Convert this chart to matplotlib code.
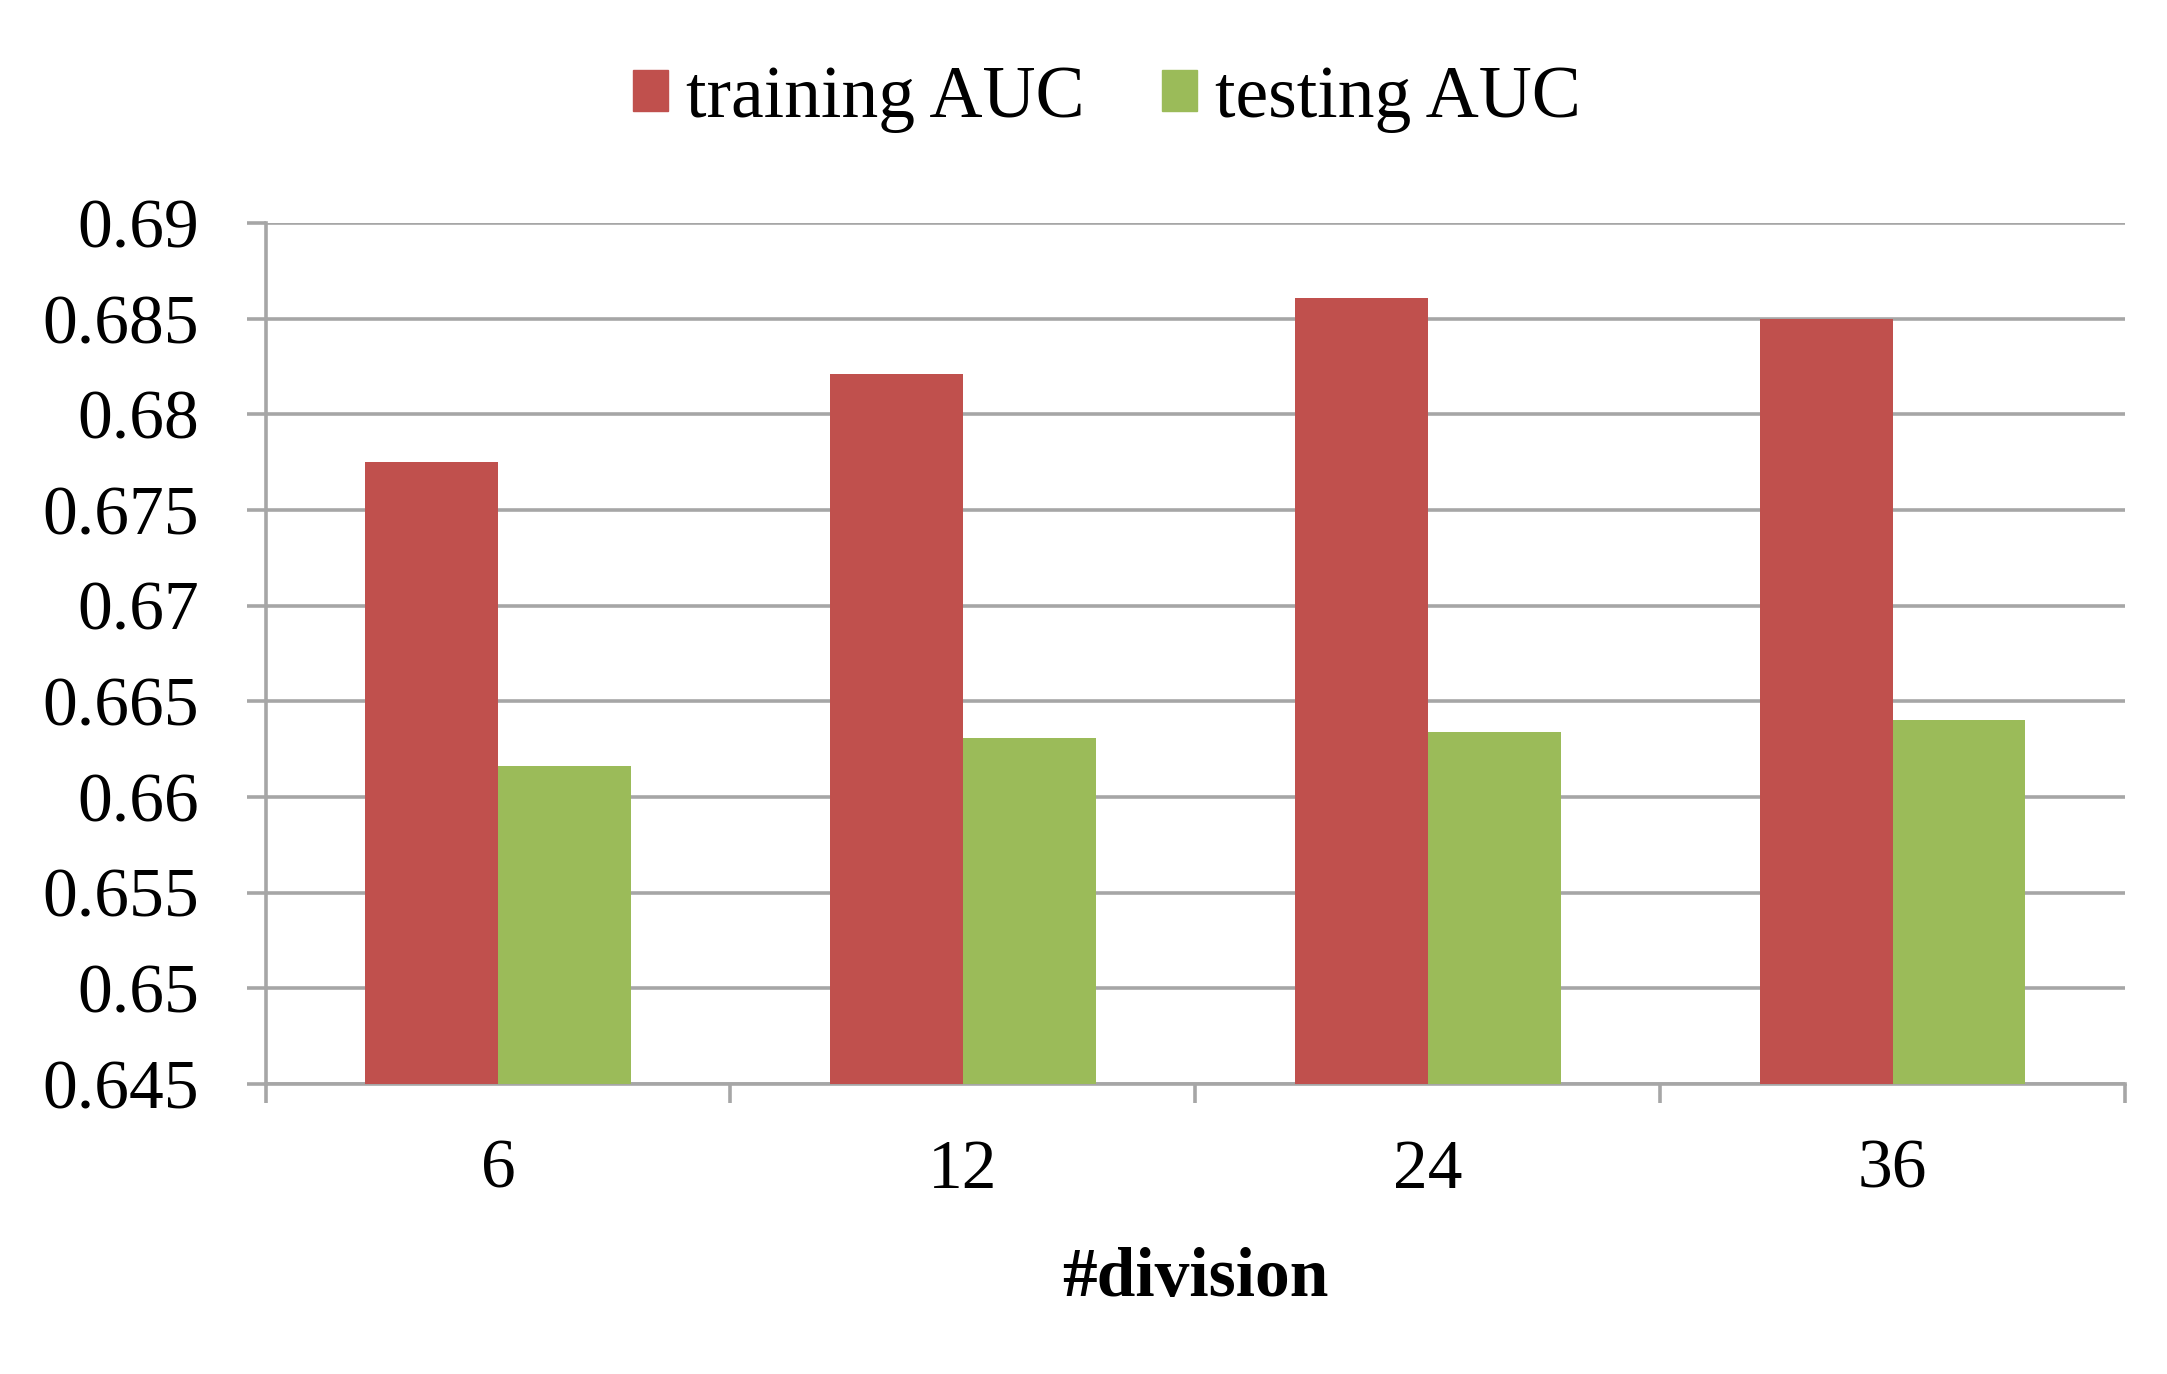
import numpy as np
import matplotlib.pyplot as plt
from matplotlib.patches import Patch

# dados
divisions = ["6", "12", "24", "36"]
training_auc = [0.6775, 0.6821, 0.6861, 0.6850]
testing_auc = [0.6616, 0.6631, 0.6634, 0.6640]
yticks = [0.645, 0.65, 0.655, 0.66, 0.665, 0.67, 0.675, 0.68, 0.685, 0.69]
ytick_labels = ["0.645", "0.65", "0.655", "0.66", "0.665", "0.67", "0.675", "0.68", "0.685", "0.69"]

red = "#C0504D"
green = "#9BBB59"
grey = "#A6A6A6"

plt.rcParams['font.family'] = ['Liberation Serif', 'DejaVu Serif']

fig = plt.figure(figsize=(21.67, 13.74), dpi=100)
ax = fig.add_axes([0.1226, 0.2112, 0.858, 0.6264])

x = np.arange(len(divisions))
w = 0.286
ax.bar(x - w / 2, training_auc, w, color=red, zorder=3)
ax.bar(x + w / 2, testing_auc, w, color=green, zorder=3)

ax.set_xlim(-0.5, len(divisions) - 0.5)
ax.set_ylim(0.645, 0.69)
ax.set_yticks(yticks)
ax.set_yticklabels(ytick_labels)
ax.set_xticks(x)
ax.set_xticklabels(divisions)
ax.set_xticks(np.arange(len(divisions) + 1) - 0.5, minor=True)

lw = 2.6
ax.grid(True, axis='y', color=grey, linewidth=lw, zorder=0)
ax.spines['top'].set_visible(False)
ax.spines['right'].set_visible(False)
ax.spines['left'].set_color(grey)
ax.spines['bottom'].set_color(grey)
ax.spines['left'].set_linewidth(lw)
ax.spines['bottom'].set_linewidth(lw)

ax.tick_params(axis='y', which='major', length=14, width=lw, color=grey,
               labelsize=50, pad=34)
ax.tick_params(axis='x', which='major', length=0, labelsize=50, pad=40)
ax.tick_params(axis='x', which='minor', length=14, width=lw, color=grey)

ax.set_xlabel('#division', fontsize=50, fontweight='bold', labelpad=32)

handles = [Patch(color=red, label='training AUC'), Patch(color=green, label='testing AUC')]
fig.legend(handles=handles, loc='center', bbox_to_anchor=(0.511, 0.928), ncol=2,
           frameon=False, fontsize=53, handlelength=0.47, handleheight=0.47,
           handletextpad=0.25, columnspacing=1.05)

fig.savefig('out.png', dpi=100)
